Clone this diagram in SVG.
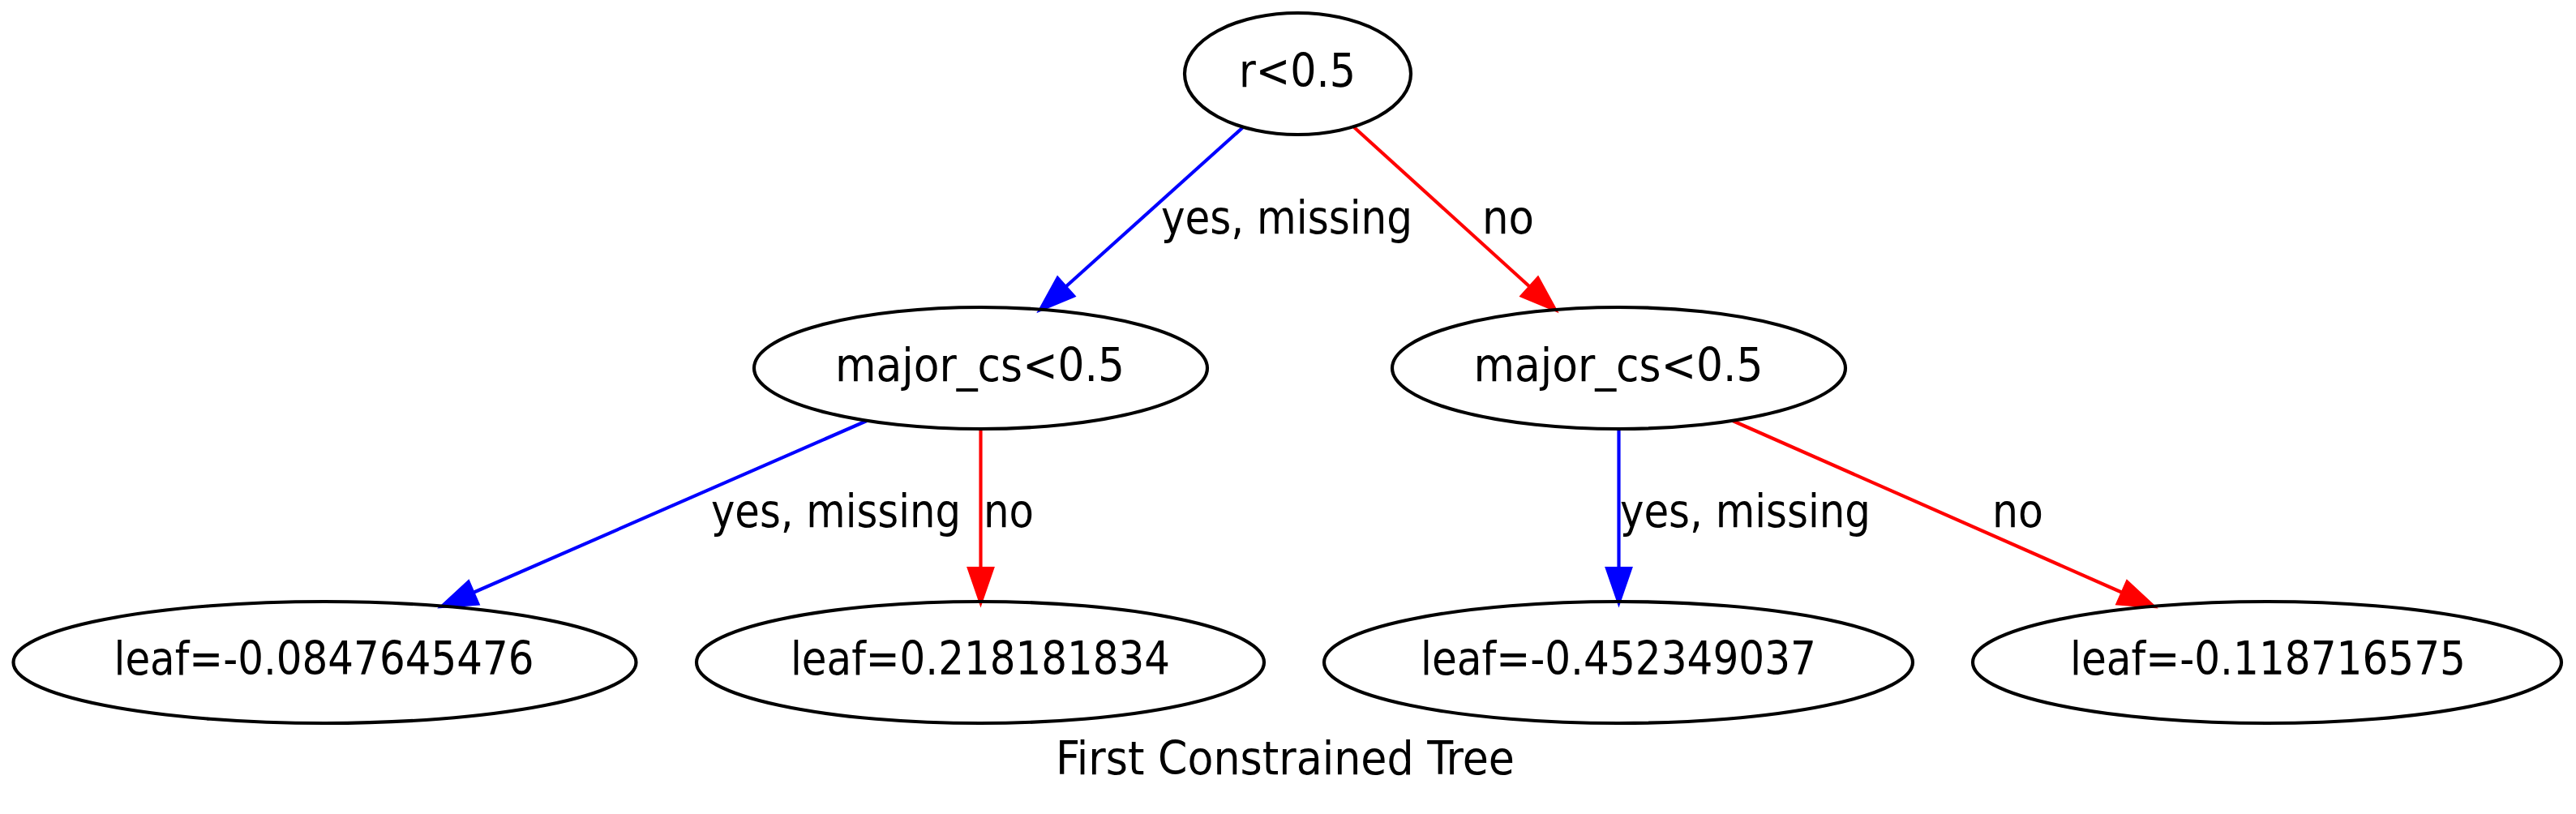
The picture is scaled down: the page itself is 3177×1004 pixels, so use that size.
<svg xmlns="http://www.w3.org/2000/svg" width="3177" height="1004" viewBox="0 0 3177 1004">
<style>
.node ellipse{fill:none;stroke:#000;stroke-width:4.17}
text{font-family:"DejaVu Sans Condensed","DejaVu Sans",sans-serif;font-stretch:condensed;font-size:57px;fill:#000;text-anchor:middle}
.blue path{fill:none;stroke:#0000ff;stroke-width:4.17}
.blue polygon{fill:#0000ff;stroke:#0000ff;stroke-width:4.17}
.red path{fill:none;stroke:#ff0000;stroke-width:4.17}
.red polygon{fill:#ff0000;stroke:#ff0000;stroke-width:4.17}
</style>
<rect x="0" y="0" width="3177" height="1004" fill="#ffffff"/>
<g id="edges">
  <g id="e0_1" class="blue">
    <path d="M1533,157 L1314,354"/>
    <polygon points="1324,365 1283,382 1304.4,343"/>
    <text x="1587" y="288" textLength="310" lengthAdjust="spacingAndGlyphs">yes, missing</text>
  </g>
  <g id="e0_2" class="red">
    <path d="M1670,157 L1887,354"/>
    <polygon points="1877,365 1918,382 1896.7,343"/>
    <text x="1860" y="288" textLength="64" lengthAdjust="spacingAndGlyphs">no</text>
  </g>
  <g id="e1_3" class="blue">
    <path d="M1069,519 L583.5,731"/>
    <polygon points="589.3,744.6 545,748 577.7,717.8"/>
    <text x="1031" y="650" textLength="308" lengthAdjust="spacingAndGlyphs">yes, missing</text>
  </g>
  <g id="e1_4" class="red">
    <path d="M1209.5,529 L1209.5,701"/>
    <polygon points="1195,701 1209.5,743 1224,701"/>
    <text x="1244" y="650" textLength="62" lengthAdjust="spacingAndGlyphs">no</text>
  </g>
  <g id="e2_5" class="blue">
    <path d="M1996.5,529 L1996.5,701"/>
    <polygon points="1982,701 1996.5,743 2011,701"/>
    <text x="2152.5" y="650" textLength="309" lengthAdjust="spacingAndGlyphs">yes, missing</text>
  </g>
  <g id="e2_6" class="red">
    <path d="M2137,519 L2617.6,731"/>
    <polygon points="2611.7,744.5 2656,748 2623.5,717.7"/>
    <text x="2488.5" y="650" textLength="63" lengthAdjust="spacingAndGlyphs">no</text>
  </g>
</g>
<g id="n0" class="node">
  <ellipse cx="1600.5" cy="91" rx="139.5" ry="75"/>
  <text x="1600" y="107" textLength="144" lengthAdjust="spacingAndGlyphs">r&lt;0.5</text>
</g>
<g id="n1" class="node">
  <ellipse cx="1209.5" cy="454" rx="279.5" ry="75"/>
  <text x="1208.5" y="470" textLength="357" lengthAdjust="spacingAndGlyphs">major_cs&lt;0.5</text>
</g>
<g id="n2" class="node">
  <ellipse cx="1996.5" cy="454" rx="279.5" ry="75"/>
  <text x="1996" y="470" textLength="357" lengthAdjust="spacingAndGlyphs">major_cs&lt;0.5</text>
</g>
<g id="n3" class="node">
  <ellipse cx="400.5" cy="817" rx="384" ry="75"/>
  <text x="399.5" y="832" textLength="518" lengthAdjust="spacingAndGlyphs">leaf=-0.0847645476</text>
</g>
<g id="n4" class="node">
  <ellipse cx="1209" cy="817" rx="350" ry="75"/>
  <text x="1209" y="832" textLength="468" lengthAdjust="spacingAndGlyphs">leaf=0.218181834</text>
</g>
<g id="n5" class="node">
  <ellipse cx="1996" cy="817" rx="363" ry="75"/>
  <text x="1996" y="832" textLength="488" lengthAdjust="spacingAndGlyphs">leaf=-0.452349037</text>
</g>
<g id="n6" class="node">
  <ellipse cx="2796" cy="817" rx="363" ry="75"/>
  <text x="2797" y="832" textLength="488" lengthAdjust="spacingAndGlyphs">leaf=-0.118716575</text>
</g>
<g id="title">
  <text x="1585" y="955" textLength="566" lengthAdjust="spacingAndGlyphs">First Constrained Tree</text>
</g>
</svg>
